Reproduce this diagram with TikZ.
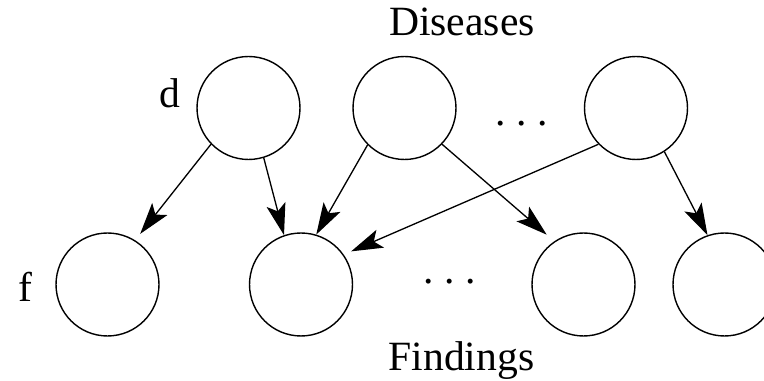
\documentclass[tikz,border=0pt]{standalone}
\usepackage{fontspec}
\setmainfont{Liberation Serif}
\usetikzlibrary{arrows.meta}
\begin{document}
\begin{tikzpicture}[x=0.02cm, y=-0.02cm,
		unit/.style={draw, circle, line width=0.8pt, minimum size=2.06cm, inner sep=0pt},
		link/.style={line width=0.75pt, -{Stealth[length=18pt, width=11pt, inset=4pt]}},
		txt/.style={font=\fontsize{23.7}{28}\selectfont, anchor=base, inner sep=0pt}]
		\useasboundingbox (0,0) rectangle (764,381);
		\node[unit] (d1) at (248.5,108) {};
		\node[unit] (d2) at (404.5,108) {};
		\node[unit] (d3) at (636,108) {};
		\node[unit] (f1) at (107.5,284.5) {};
		\node[unit] (f2) at (301,284.5) {};
		\node[unit] (f3) at (583.5,284.5) {};
		\node[unit] (f4) at (724.5,284.5) {};
		\node[txt] (dis) at (462,36) {Diseases};
		\node[txt] (fin) at (461.5,371) {Findings};
		\node[txt] (dl) at (170,108) {d};
		\node[txt] (fl) at (25.5,302) {f};
		\node[txt] (dtop) at (521.5,126) {.\kern0.26em.\kern0.26em.};
		\node[txt] (dbot) at (450,284) {.\kern0.26em.\kern0.26em.};
		\draw[link, shorten >=4.6pt] (d1.-136) -- (f1.58);
		\draw[link] (d1.-73) -- (f2.109);
		\draw[link] (d2.225) -- (f2.73);
		\draw[link, shorten >=5.7pt] (d2.-44) -- (f3.124);
		\draw[link, shorten >=4.6pt] (d3.224) -- (f2.35);
		\draw[link] (d3.-57) -- (f4.109);
	\end{tikzpicture}
\end{document}
